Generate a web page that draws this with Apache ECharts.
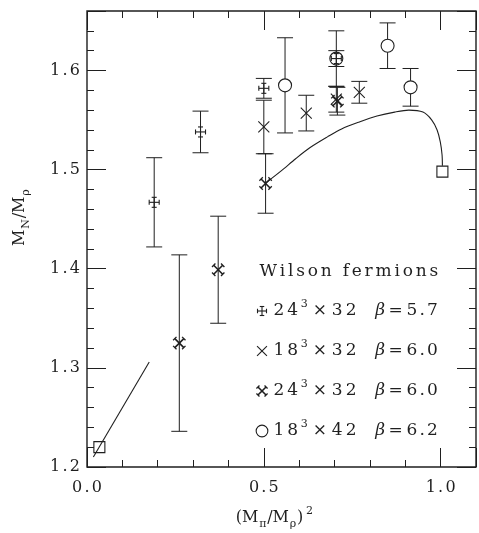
<!DOCTYPE html>
<html>
<head>
<meta charset="utf-8">
<script src="https://cdn.jsdelivr.net/npm/echarts@6/dist/echarts.min.js"></script>
<style>
  html, body { margin: 0; padding: 0; background: #fff; }
  #chart { width: 479px; height: 533px; }
</style>
</head>
<body>
<div id="chart"></div>
<script>
// 24^3 x 32, beta = 5.7
const plusX   = [0.19, 0.321, 0.50, 0.705];
const plusY   = [1.467, 1.538, 1.582, 1.612];
const plusErr = [0.045, 0.021, 0.010, 0.008];

// 18^3 x 32, beta = 6.0
const crossX   = [0.50, 0.62, 0.705, 0.77];
const crossY   = [1.543, 1.557, 1.571, 1.578];
const crossErr = [0.027, 0.018, 0.013, 0.011];

// 24^3 x 32, beta = 6.0
const boldX   = [0.261, 0.371, 0.505, 0.708];
const boldY   = [1.325, 1.399, 1.486, 1.569];
const boldErr = [0.089, 0.054, 0.030, 0.014];

// 18^3 x 42, beta = 6.2
const circX   = [0.56, 0.705, 0.85, 0.915];
const circY   = [1.585, 1.612, 1.625, 1.583];
const circErr = [0.048, 0.028, 0.023, 0.019];

// reference points (open squares)
const squareX = [0.035, 1.005];
const squareY = [1.220, 1.498];

// straight line near the chiral limit
const lowLineX = [0.018, 0.176];
const lowLineY = [1.210, 1.306];

// curve towards the heavy-quark limit
const curveX = [0.507, 0.55, 0.59, 0.63, 0.68, 0.72, 0.77, 0.82, 0.87, 0.91, 0.95, 0.975, 0.99, 0.999, 1.004, 1.005];
const curveY = [1.487, 1.499, 1.511, 1.522, 1.533, 1.541, 1.548, 1.554, 1.558, 1.560, 1.558, 1.550, 1.540, 1.528, 1.515, 1.504];

// labelled ticks
const xTickValues = [0.0, 0.5, 1.0];
const yTickValues = [1.2, 1.3, 1.4, 1.5, 1.6];

// legend entries: lattice volume, extent and coupling
const legendVolume = ['24', '18', '24', '18'];
const legendExtent = ['32', '32', '32', '42'];
const legendBeta   = ['5.7', '6.0', '6.0', '6.2'];
const legendKinds  = ['plus', 'cross', 'bold', 'circle'];

const INK = '#1f1f1f';
const FONT = 'DejaVu Serif';

// wrap every character in a rich token so the glyphs get a little extra room
function spaced(str, key) {
  return str.split('').map(c => '{' + key + '|' + c + '}').join('');
}

function seg(x1, y1, x2, y2, w) {
  return { type: 'line', shape: { x1, y1, x2, y2 }, style: { stroke: INK, lineWidth: w || 1.1, fill: null } };
}

// marker glyphs, drawn around pixel position (x, y), scaled by s
function markerShapes(kind, x, y, s) {
  s = s || 1;
  if (kind === 'plus') {
    const a = 5 * s, c = 2.5 * s;
    return [
      seg(x - a, y, x + a, y), seg(x - a, y - c, x - a, y + c), seg(x + a, y - c, x + a, y + c),
      seg(x, y - a, x, y + a), seg(x - c, y - a, x + c, y - a), seg(x - c, y + a, x + c, y + a)
    ];
  }
  if (kind === 'cross') {
    const a = 5.5 * s;
    return [seg(x - a, y - a, x + a, y + a), seg(x - a, y + a, x + a, y - a)];
  }
  if (kind === 'bold') {
    const a = 4.5 * s, k = 1.7 * s;
    const out = [seg(x - a, y - a, x + a, y + a, 1.6), seg(x - a, y + a, x + a, y - a, 1.6)];
    [[1, 1], [-1, -1], [1, -1], [-1, 1]].forEach(([sx, sy]) => {
      const ex = x + sx * a, ey = y + sy * a;
      const px = -sy, py = sx;
      out.push(seg(ex - k * px, ey - k * py, ex + k * px, ey + k * py, 1.3));
    });
    return out;
  }
  if (kind === 'circle') {
    return [{ type: 'circle', shape: { cx: x, cy: y, r: 6.5 * s }, style: { fill: '#fff', stroke: INK, lineWidth: 1.1 } }];
  }
  if (kind === 'square') {
    const h = 5.5 * s;
    return [{ type: 'rect', shape: { x: x - h, y: y - h, width: 2 * h, height: 2 * h }, style: { fill: 'none', stroke: INK, lineWidth: 1.1 } }];
  }
  return [];
}

// points with vertical error bars and end caps
function errorSeries(name, kind, xs, ys, es, z) {
  return {
    type: 'custom',
    name: name,
    xAxisIndex: 0,
    yAxisIndex: 0,
    z: z,
    data: xs.map((x, i) => [x, ys[i], es ? es[i] : 0]),
    encode: { x: 0, y: 1 },
    renderItem: function (params, api) {
      const x = api.value(0), y = api.value(1), e = api.value(2);
      const c = api.coord([x, y]);
      const children = [];
      if (e > 0) {
        const hi = api.coord([x, y + e])[1];
        const lo = api.coord([x, y - e])[1];
        children.push(seg(c[0], hi, c[0], lo, 1));
        children.push(seg(c[0] - 8, hi, c[0] + 8, hi, 1));
        children.push(seg(c[0] - 8, lo, c[0] + 8, lo, 1));
      }
      return { type: 'group', children: children.concat(markerShapes(kind, c[0], c[1], 1)) };
    }
  };
}

function tickAxis(dim, position, interval, length, withLabels) {
  const isX = dim === 'x';
  const ax = {
    type: 'value',
    position: position,
    min: isX ? 0 : 1.2,
    max: isX ? 1.1 : 1.66,
    interval: interval,
    axisLine: { show: false, onZero: false },
    splitLine: { show: false },
    axisTick: { show: true, inside: true, length: length, lineStyle: { color: INK, width: 1 } },
    axisLabel: { show: false }
  };
  if (withLabels) {
    const ticks = isX ? xTickValues : yTickValues;
    ax.axisLabel = {
      show: true,
      margin: isX ? 13 : 6,
      formatter: function (v) {
        const hit = ticks.some(t => Math.abs(t - v) < 1e-6);
        return hit ? spaced(v.toFixed(1), 'd') : '';
      },
      rich: { d: { fontFamily: FONT, fontSize: 16, color: INK, padding: [0, 1.1, 0, 1.1] } }
    };
  }
  return ax;
}

const chart = echarts.init(document.getElementById('chart'), null, { renderer: 'canvas' });

const LS = 17;
const legendRich = {
  w: { fontFamily: FONT, fontSize: LS, fill: INK, lineHeight: 24, padding: [0, 1.4, 0, 1.4] },
  d: { fontFamily: FONT, fontSize: LS, fill: INK, lineHeight: 24, padding: [0, 1.1, 0, 1.1] },
  v: { fontFamily: FONT, fontSize: LS, fill: INK, lineHeight: 24, padding: [0, 1.5, 0, 1.5] },
  u: { fontFamily: FONT, fontSize: 11, fill: INK, lineHeight: 10, verticalAlign: 'top', padding: [0, 1.5, 0, 1] },
  x: { fontFamily: FONT, fontSize: LS, fill: INK, lineHeight: 24, padding: [0, 3.5, 0, 3.5] },
  e: { fontFamily: FONT, fontSize: LS, fill: INK, lineHeight: 24, padding: [0, 2.5, 0, 2.5] },
  b: { fontFamily: FONT, fontSize: LS, fill: INK, lineHeight: 24, fontStyle: 'italic', padding: [0, 1, 0, 1] }
};

function textEl(text, x, y, rich, align) {
  return {
    type: 'text',
    x: x,
    y: y,
    silent: true,
    style: {
      text: text,
      fill: INK,
      fontFamily: FONT,
      fontSize: LS,
      align: align || 'left',
      verticalAlign: 'middle',
      textAlign: align || 'left',
      textVerticalAlign: 'middle',
      rich: rich
    }
  };
}

const graphics = [];
graphics.push(textEl(spaced('Wilson fermions', 'w'), 258, 272, legendRich));
legendKinds.forEach((kind, i) => {
  const y = 311 + 40 * i;
  graphics.push({ type: 'group', silent: true, children: markerShapes(kind, 262, y, 0.9) });
  graphics.push(textEl(spaced(legendVolume[i], 'v') + '{u|3}{x|×}' + spaced(legendExtent[i], 'v'), 272, y, legendRich));
  graphics.push(textEl('{b|β}{e|=}' + spaced(legendBeta[i], 'd'), 439, y, legendRich, 'right'));
});

const titleRich = {
  m: { fontFamily: FONT, fontSize: 16, fill: INK, lineHeight: 24, padding: [0, 0.8, 0, 0.8] },
  n: { fontFamily: FONT, fontSize: 11, fill: INK, lineHeight: 12, verticalAlign: 'bottom' },
  s: { fontFamily: FONT, fontSize: 11, fill: INK, lineHeight: 10, verticalAlign: 'top', padding: [0, 0, 0, 2] }
};

// y axis title, reading bottom to top
graphics.push({
  type: 'text', x: 20, y: 218, rotation: Math.PI / 2, silent: true,
  style: {
    text: '{m|M}{n|N}{m|/M}{n|ρ}', fill: INK, fontFamily: FONT, fontSize: 16,
    align: 'center', verticalAlign: 'middle', textAlign: 'center', textVerticalAlign: 'middle', rich: titleRich
  }
});

// x axis title
graphics.push({
  type: 'text', x: 274, y: 518, silent: true,
  style: {
    text: '{m|(M}{n|π}{m|/M}{n|ρ}{m|)}{s|2}', fill: INK, fontFamily: FONT, fontSize: 16,
    align: 'center', verticalAlign: 'middle', textAlign: 'center', textVerticalAlign: 'middle', rich: titleRich
  }
});

const option = {
  animation: false,
  backgroundColor: '#fff',
  grid: { left: 87, right: 2, top: 11, bottom: 66, show: true, borderColor: INK, borderWidth: 1.4, backgroundColor: 'transparent' },
  xAxis: [
    tickAxis('x', 'bottom', 0.5, 19, true),
    tickAxis('x', 'bottom', 0.1, 7, false),
    tickAxis('x', 'top', 0.5, 19, false),
    tickAxis('x', 'top', 0.1, 7, false)
  ],
  yAxis: [
    tickAxis('y', 'left', 0.1, 19, true),
    tickAxis('y', 'left', 0.02, 7, false),
    tickAxis('y', 'right', 0.1, 19, false),
    tickAxis('y', 'right', 0.02, 7, false)
  ],
  series: [
    {
      type: 'line', name: 'chiral line', xAxisIndex: 0, yAxisIndex: 0, z: 2,
      data: lowLineX.map((x, i) => [x, lowLineY[i]]),
      showSymbol: false, silent: true,
      lineStyle: { color: INK, width: 1.1 }
    },
    {
      type: 'line', name: 'heavy curve', xAxisIndex: 0, yAxisIndex: 0, z: 2,
      data: curveX.map((x, i) => [x, curveY[i]]),
      showSymbol: false, smooth: 0.3, silent: true,
      lineStyle: { color: INK, width: 1.1 }
    },
    errorSeries('18^3x42 beta=6.2', 'circle', circX, circY, circErr, 3),
    errorSeries('18^3x32 beta=6.0', 'cross', crossX, crossY, crossErr, 4),
    errorSeries('24^3x32 beta=6.0', 'bold', boldX, boldY, boldErr, 5),
    errorSeries('24^3x32 beta=5.7', 'plus', plusX, plusY, plusErr, 6),
    errorSeries('limits', 'square', squareX, squareY, null, 7)
  ],
  graphic: graphics
};

chart.setOption(option);
</script>
</body>
</html>
